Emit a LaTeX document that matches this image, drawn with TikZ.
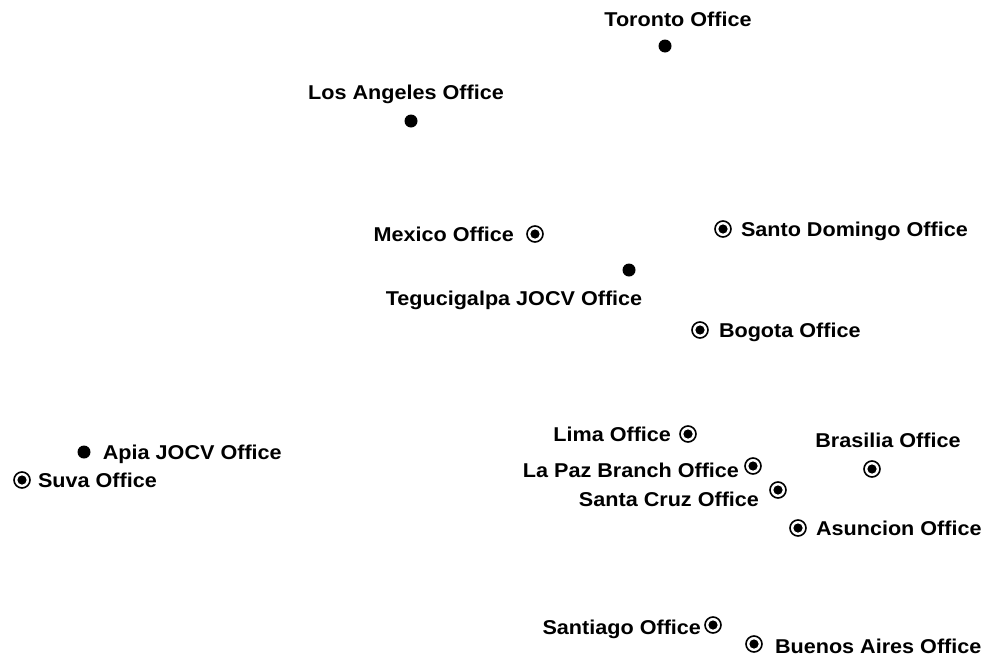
\documentclass[tikz,border=0pt]{standalone}
\usepackage{fontspec}
\setmainfont{Liberation Sans}[FakeStretch=1.08]
\usetikzlibrary{positioning}
\tikzset{
  jocvdot/.style={circle, fill=black, inner sep=0pt, minimum size=13pt},
  officering/.style={circle, draw=black, line width=1.6pt, inner sep=0pt, minimum size=16pt,
    path picture={\fill[black] (path picture bounding box.center) circle (4.6pt);}},
  place/.style={font=\fontsize{20}{24}\selectfont\bfseries, inner sep=0pt,
    text height=14.3pt, text depth=0pt}
}
\begin{document}
\begin{tikzpicture}[x=1pt, y=-1pt]
      \useasboundingbox (0,0) rectangle (986,659);
      \path
        (665,46) node[jocvdot] (toronto){}
        (411,121) node[jocvdot] (losangeles){}
        (535,234) node[officering] (mexico){}
        (723,229) node[officering] (santodomingo){}
        (629,270) node[jocvdot] (tegucigalpa){}
        (700,330) node[officering] (bogota){}
        (688,434) node[officering] (lima){}
        (84,452) node[jocvdot] (apia){}
        (22,480) node[officering] (suva){}
        (872,469) node[officering] (brasilia){}
        (753,466) node[officering] (lapaz){}
        (778,490) node[officering] (santacruz){}
        (798,528) node[officering] (asuncion){}
        (713,625) node[officering] (santiago){}
        (754,644) node[officering] (buenosaires){};
      \begin{scope}[place]
        \node[above=13pt of toronto, xshift=13pt] (torontolbl) {Toronto Office};
        \node[above=15pt of losangeles, xshift=-5pt] (losangeleslbl) {Los Angeles Office};
        \node[left=12pt of mexico] (mexicolbl) {Mexico Office};
        \node[right=9pt of santodomingo] (santodomingolbl) {Santo Domingo Office};
        \node[below=14pt of tegucigalpa, xshift=-115pt] (tegucigalpalbl) {Tegucigalpa JOCV Office};
        \node[right=10pt of bogota] (bogotalbl) {Bogota Office};
        \node[left=8pt of lima] (limalbl) {Lima Office};
        \node[right=12pt of apia] (apialbl) {Apia JOCV Office};
        \node[right=7pt of suva] (suvalbl) {Suva Office};
        \node[above=13pt of brasilia, xshift=16pt] (brasilialbl) {Brasilia Office};
        \node[left=5pt of lapaz, yshift=-4pt] (lapazlbl) {La Paz Branch Office};
        \node[left=10pt of santacruz, yshift=-9pt] (santacruzlbl) {Santa Cruz Office};
        \node[right=9pt of asuncion] (asuncionlbl) {Asuncion Office};
        \node[left=3pt of santiago, yshift=-2pt] (santiagolbl) {Santiago Office};
        \node[right=12pt of buenosaires, yshift=-2pt] (buenosaireslbl) {Buenos Aires Office};
      \end{scope}
    \end{tikzpicture}
\end{document}
